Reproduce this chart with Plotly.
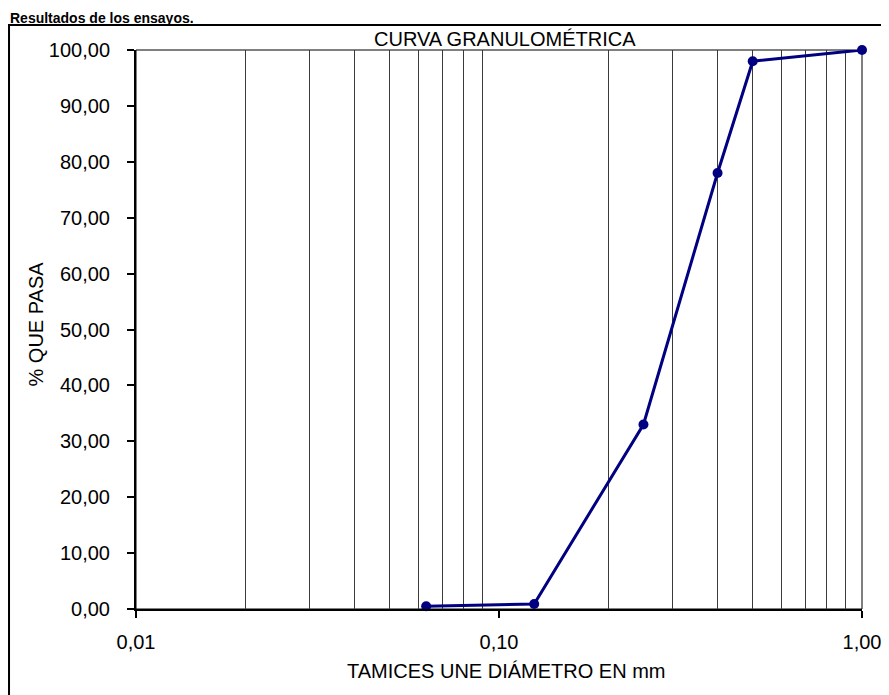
import plotly.graph_objects as go

# Data
diametro_mm = [0.063, 0.125, 0.25, 0.4, 0.5, 1.0]
pct_pasa = [0.5, 0.9, 33.0, 78.0, 98.0, 100.0]

x_major_ticks = [0.01, 0.1, 1.0]
x_minor_ticks = [0.02, 0.03, 0.04, 0.05, 0.06, 0.07, 0.08, 0.09,
                 0.2, 0.3, 0.4, 0.5, 0.6, 0.7, 0.8, 0.9, 1.0]
y_ticks = [0, 10, 20, 30, 40, 50, 60, 70, 80, 90, 100]

FONT = "Liberation Sans, Arial, sans-serif"
FS = 20

fig = go.Figure()
fig.add_trace(go.Scatter(
    x=diametro_mm, y=pct_pasa, mode="lines+markers",
    line=dict(color="#000080", width=3),
    marker=dict(color="#000080", size=10),
    showlegend=False, cliponaxis=False,
))

fig.update_layout(
    width=889, height=695,
    margin=dict(l=128, r=35, t=42, b=94),
    paper_bgcolor="white", plot_bgcolor="white",
    separators=",.",
    font=dict(family=FONT, size=FS, color="black"),
    xaxis=dict(
        type="log", range=[-2, 0],
        tickmode="array", tickvals=x_major_ticks, tickformat=".2f",
        ticks="outside", ticklen=7, tickwidth=2, tickcolor="black",
        ticklabelstandoff=7,
        showgrid=False, zeroline=False,
        showline=True, linecolor="black", linewidth=2,
        minor=dict(tickmode="array", tickvals=x_minor_ticks,
                   showgrid=True, gridcolor="#3a3a3a", gridwidth=1,
                   ticks=""),
        tickfont=dict(size=FS),
    ),
    yaxis=dict(
        range=[0, 100], tickmode="array", tickvals=y_ticks, tickformat=".2f",
        ticks="outside", ticklen=7, tickwidth=2, tickcolor="black",
        ticklabelstandoff=13,
        showgrid=False, zeroline=False,
        showline=True, linecolor="black", linewidth=2,
        tickfont=dict(size=FS),
    ),
    shapes=[
        dict(type="rect", xref="paper", yref="paper", x0=0, x1=1, y0=0, y1=1,
             line=dict(color="black", width=1), layer="below"),
        dict(type="rect", xref="paper", yref="paper",
             x0=-0.1749, x1=1.08, y0=-0.2, y1=1.0447,
             line=dict(color="black", width=2), layer="below"),
    ],
    annotations=[
        dict(text="CURVA GRANULOMÉTRICA", xref="paper", yref="paper",
             x=0.508, y=1.020, xanchor="center", yanchor="middle",
             showarrow=False, font=dict(size=FS)),
        dict(text="TAMICES UNE DIÁMETRO EN mm", xref="paper", yref="paper",
             x=0.510, y=-0.1109, xanchor="center", yanchor="middle",
             showarrow=False, font=dict(size=FS)),
        dict(text="% QUE PASA", xref="paper", yref="paper",
             x=-0.1377, y=0.509, xanchor="center", yanchor="middle",
             textangle=-90, showarrow=False, font=dict(size=FS)),
        dict(text="<b>Resultados de los ensayos.</b>", xref="paper", yref="paper",
             x=-0.1763, y=1.0751, xanchor="left", yanchor="top",
             showarrow=False, font=dict(size=14)),
    ],
)

fig.write_html("out.html")
